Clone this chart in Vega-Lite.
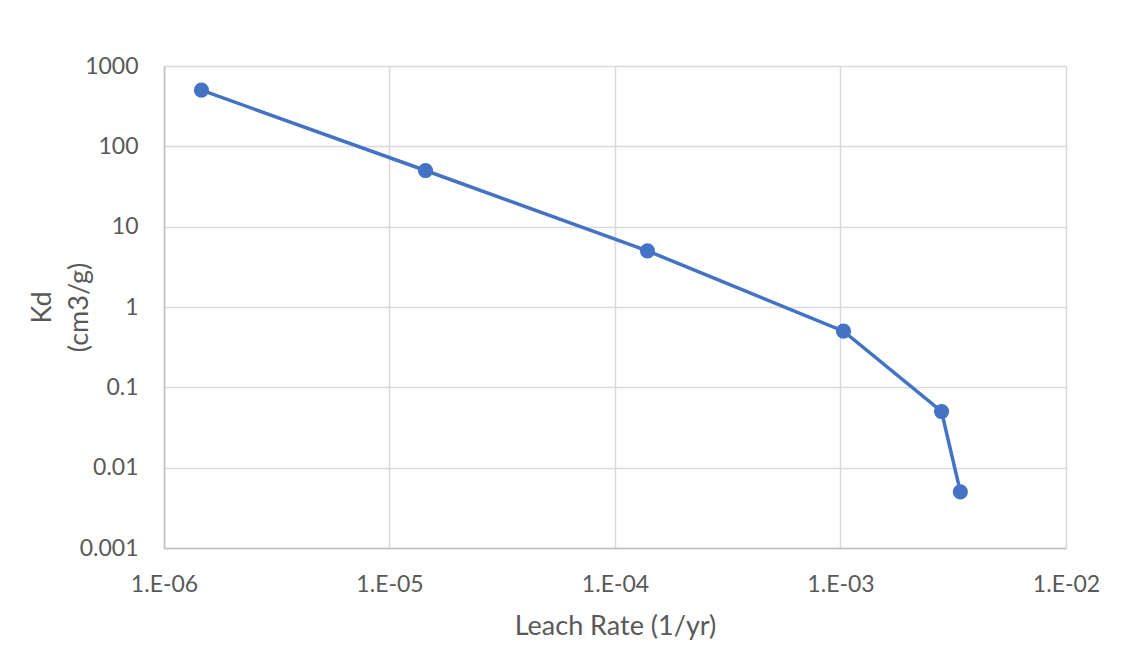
{
  "$schema": "https://vega.github.io/schema/vega-lite/v6.json",
  "width": 902,
  "height": 482,
  "autosize": {"type": "none"},
  "padding": {"left": 164, "top": 66, "right": 72, "bottom": 108},
  "background": "white",
  "config": {
    "view": {"stroke": null},
    "font": "Lato",
    "axis": {
      "labelFont": "Lato",
      "titleFont": "Lato",
      "labelColor": "#595959",
      "titleColor": "#595959",
      "labelFontSize": 23,
      "titleFontSize": 27,
      "titleFontWeight": "normal",
      "gridColor": "#d9d9d9",
      "gridWidth": 1.5,
      "domainColor": "#bfbfbf",
      "domainWidth": 1.5,
      "ticks": false
    }
  },
  "data": {
    "values": [
      {"rate": 1.466e-6, "kd": 500},
      {"rate": 1.444e-5, "kd": 50},
      {"rate": 1.393e-4, "kd": 5},
      {"rate": 1.031e-3, "kd": 0.5},
      {"rate": 2.806e-3, "kd": 0.05},
      {"rate": 3.40e-3, "kd": 0.005}
    ]
  },
  "encoding": {
    "x": {
      "field": "rate",
      "type": "quantitative",
      "scale": {"type": "log", "domain": [1e-6, 1e-2], "nice": false},
      "axis": {
        "title": "Leach Rate (1/yr)",
        "values": [1e-6, 1e-5, 1e-4, 1e-3, 1e-2],
        "labelExpr": "'1.E-0' + (-round(log(datum.value)/LN10))",
        "labelPadding": 25,
        "titlePadding": 17,
        "labelFlush": false
      }
    },
    "y": {
      "field": "kd",
      "type": "quantitative",
      "scale": {"type": "log", "domain": [0.001, 1000], "nice": false},
      "axis": {
        "title": ["Kd", "(cm3/g)"],
        "titleLineHeight": 37,
        "values": [0.001, 0.01, 0.1, 1, 10, 100, 1000],
        "labelExpr": "format(datum.value, '.3~f')",
        "labelPadding": 26,
        "titleX": -122,
        "titleY": 241,
        "titleBaseline": "middle",
        "labelFlush": false
      }
    }
  },
  "layer": [
    {"mark": {"type": "line", "color": "#4472C4", "strokeWidth": 3.5}},
    {"mark": {"type": "circle", "color": "#4472C4", "size": 230, "opacity": 1}}
  ]
}
